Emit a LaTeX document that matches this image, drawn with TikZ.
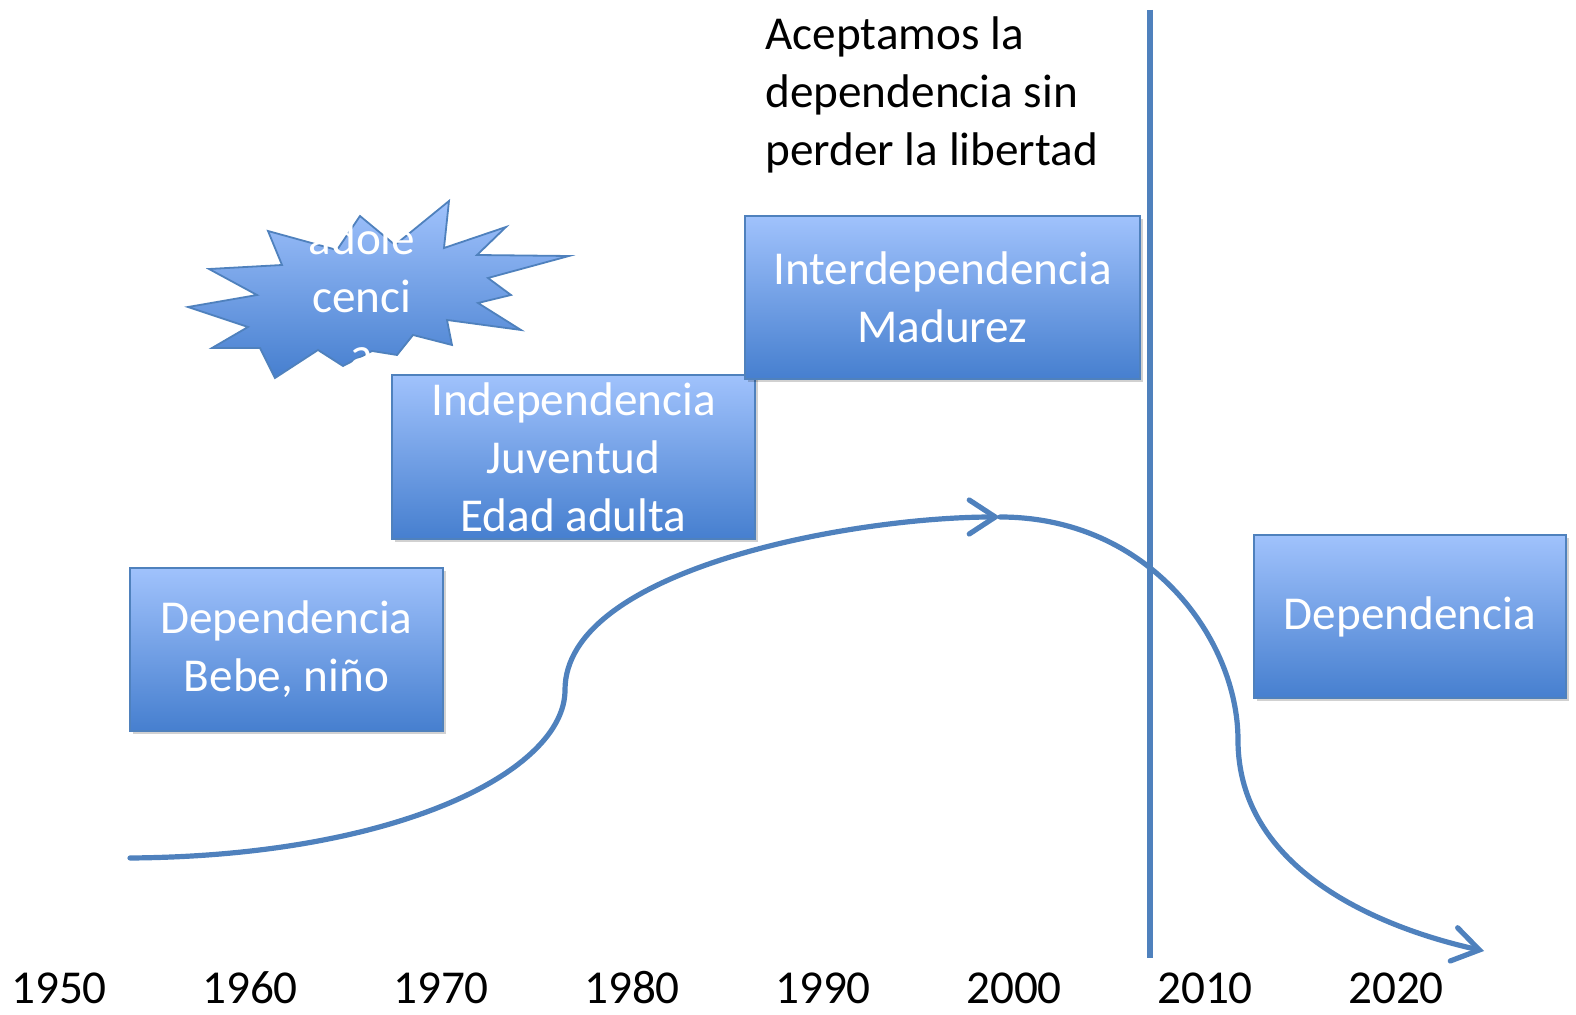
\documentclass[tikz,border=0pt]{standalone}
\usepackage{fontspec}
\setmainfont{Carlito}
\usetikzlibrary{arrows.meta}
\definecolor{edgeblue}{RGB}{79,129,189}
\definecolor{fillhi}{RGB}{160,194,252}
\definecolor{filllo}{RGB}{70,127,207}

\begin{document}
\begin{tikzpicture}[x=0.5pt, y=-0.5pt,
    every node/.style={font=\fontsize{23.6pt}{29pt}\selectfont, inner sep=0pt},
    agebox/.style={draw=edgeblue, line width=0.9pt, top color=fillhi, bottom color=filllo,
      text=white, align=center,
      preaction={fill=black, opacity=0.18, transform canvas={xshift=1.5pt, yshift=-1.5pt}}},
    arr/.style={draw=edgeblue, line width=2.6pt, line cap=round, -{Straight Barb[length=13pt, width=17pt, line cap=round]}},
    yearlbl/.style={text=black}]
  \useasboundingbox (0,0) rectangle (1576,1015);
  % starburst
  \path[draw=edgeblue, line width=0.9pt, top color=fillhi, bottom color=filllo]
    (188,307) -- (257,295) -- (209,269) -- (282,265) -- (268,231) -- (337,250) -- (360,216)
    -- (395,245) -- (449,201) -- (444,248) -- (506,227) -- (477,255) -- (569,256) -- (488,278)
    -- (511,295) -- (478,303) -- (521,330) -- (447,320) -- (452,345) -- (413,335) -- (397,355)
    -- (372,351) -- (343,366) -- (318,350) -- (275,378) -- (260,348) -- (212,348) -- (248,327) -- cycle;
  \node[text=white, align=center] (burst) at (362,296) {adole\\cenci\\a};
  % boxes
  \node[agebox, minimum width=181.5pt, minimum height=82pt] (indep) at (573.5,457) {Independencia\\Juventud\\Edad adulta};
  \node[agebox, minimum width=197.5pt, minimum height=81.5pt] (inter) at (942.5,297.5) {Interdependencia\\Madurez};
  \node[agebox, minimum width=156.5pt, minimum height=81.5pt] (child) at (286.5,649.5) {Dependencia\\Bebe, niño};
  \node[agebox, minimum width=156pt, minimum height=81.5pt] (old) at (1410,616.5) {Dependencia};
  \node[anchor=west, align=left] (motto) at (765,95) {Aceptamos la\\dependencia sin\\perder la libertad};
  % life curve
  \coordinate (start) at (130,858);
  \coordinate (rise) at (565,690);
  \coordinate (peak) at (1000,517);
  \coordinate (fall) at (1238,740);
  \coordinate (end) at (1484,951);
  \draw[arr] (start) .. controls (400,856) and (565,770) .. (rise) .. controls (565,570) and (850,517) .. (peak);
  \draw[arr] (peak) .. controls (1150,517) and (1238,640) .. (fall) .. controls (1238,870) and (1380,928) .. (end);
  % now
  \coordinate (nowtop) at (1150,10);
  \coordinate (nowbot) at (1150,958);
  \draw[edgeblue, line width=3pt] (nowtop) -- (nowbot);
  % years
  \foreach \yr [count=\i from 0] in {1950,1960,...,2020}
    \node[yearlbl] (yr\yr) at (59+191*\i,988) {\yr};
\end{tikzpicture}
\end{document}
